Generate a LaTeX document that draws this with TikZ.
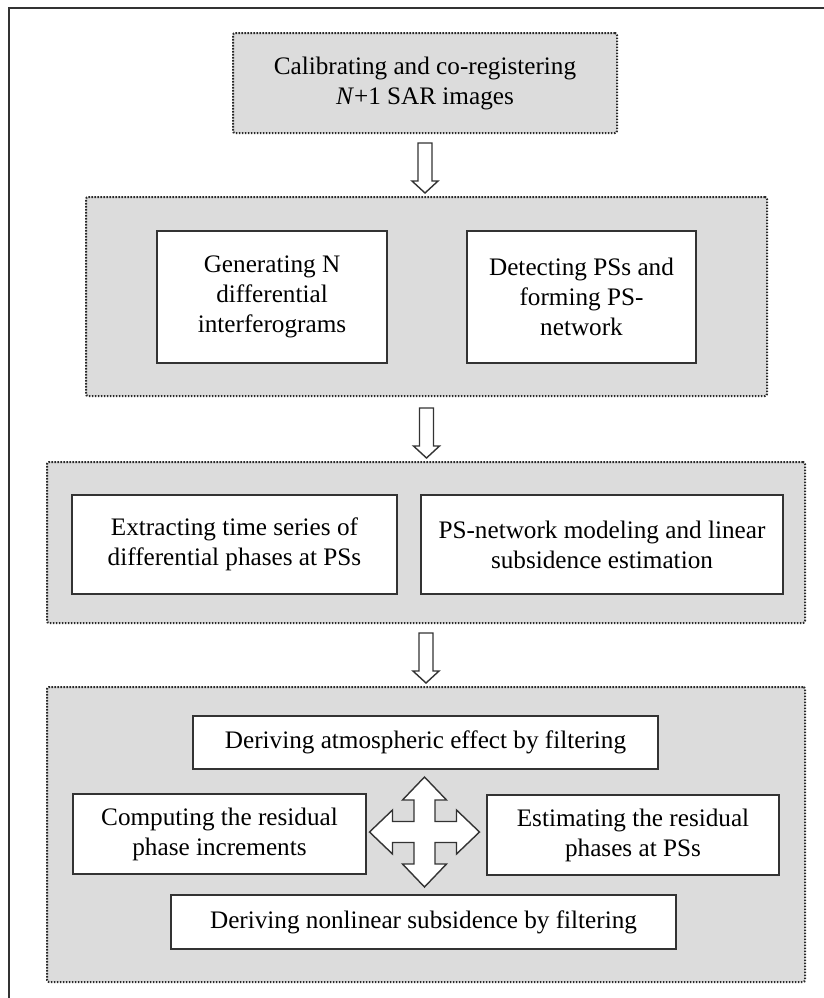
\documentclass[tikz,border=0pt]{standalone}
\usepackage{fontspec}
\setmainfont{Liberation Serif}
\usetikzlibrary{calc}

\definecolor{panel}{HTML}{DCDCDC}
\definecolor{edge}{HTML}{333333}

% hollow block arrow pointing down, hung from a coordinate
\newcommand{\hollowdown}[1]{\draw[hollow,shift={(#1)}] (-7,0) -- (7,0) -- (7,38) -- (13,38) -- (0,50) -- (-13,38) -- (-7,38) -- cycle;}

\begin{document}
\begin{tikzpicture}[x=0.5pt,y=-0.5pt,
	stage/.style={draw=edge!80!black,fill=panel,line width=1pt,dash pattern=on 0.8pt off 0.7pt,rounded corners=1pt,inner sep=0pt},
	task/.style={draw=edge,fill=white,line width=0.8pt,inner sep=0pt,align=center},
	hollow/.style={draw=edge,fill=white,line width=0.7pt,line join=miter},
	font=\fontsize{12.6}{15}\selectfont]
	\useasboundingbox (0,0) rectangle (824,998);
	\draw[edge,line width=1pt] (824,7.5) -- (9,7.5) -- (9,998);

	\node[stage,align=center,minimum width=192pt,minimum height=50pt] (cal) at (425,83) {Calibrating and co-registering\\\textit{N}+1 SAR images};

	\node[stage,minimum width=340.5pt,minimum height=99.5pt] (s2) at (426.5,296.5) {};
	\node[task,minimum width=115pt,minimum height=66pt] (gen) at (272,297) {Generating N\\differential\\interferograms};
	\node[task,minimum width=114.5pt,minimum height=66pt] (det) at (581.5,297) {Detecting PSs and\\forming PS-\\network};

	\node[stage,minimum width=379pt,minimum height=80.5pt] (s3) at (426,542.5) {};
	\node[task,minimum width=162.5pt,minimum height=49.5pt] (ext) at (234.5,544.5) {Extracting time series of\\differential phases at PSs};
	\node[task,minimum width=181pt,minimum height=49.5pt] (mod) at (602,544.5) {PS-network modeling and linear\\subsidence estimation};

	\node[stage,minimum width=379pt,minimum height=147.5pt] (s4) at (426,834.5) {};
	\node[task,minimum width=232.5pt,minimum height=26.5pt] (atm) at (425.5,742.5) {Deriving atmospheric effect by filtering};
	\node[task,minimum width=146.5pt,minimum height=40pt] (res) at (219.5,834) {Computing the residual\\phase increments};
	\node[task,minimum width=146pt,minimum height=40pt] (est) at (633,835) {Estimating the residual\\phases at PSs};
	\node[task,minimum width=252.5pt,minimum height=27pt] (non) at (423.5,922) {Deriving nonlinear subsidence by filtering};

	% arrows between the stages
	\coordinate (d1) at ([yshift=-4.5pt]cal.south);
	\coordinate (d2) at ([yshift=-5.5pt]s2.south);
	\coordinate (d3) at ([yshift=-4.5pt]s3.south);
	\hollowdown{d1}
	\hollowdown{d2}
	\hollowdown{d3}

	% four way arrow in the last stage
	\coordinate (hub) at ($(atm.south)!.5!(non.north)$);
	\draw[hollow,shift={(hub)}] (0,-55) -- (22,-32) -- (10.5,-32) -- (10.5,-10.5) -- (32,-10.5) -- (32,-22) -- (55,0) -- (32,22) -- (32,10.5) -- (10.5,10.5) -- (10.5,32) -- (22,32) -- (0,55) -- (-22,32) -- (-10.5,32) -- (-10.5,10.5) -- (-32,10.5) -- (-32,22) -- (-55,0) -- (-32,-22) -- (-32,-10.5) -- (-10.5,-10.5) -- (-10.5,-32) -- (-22,-32) -- cycle;
\end{tikzpicture}
\end{document}
